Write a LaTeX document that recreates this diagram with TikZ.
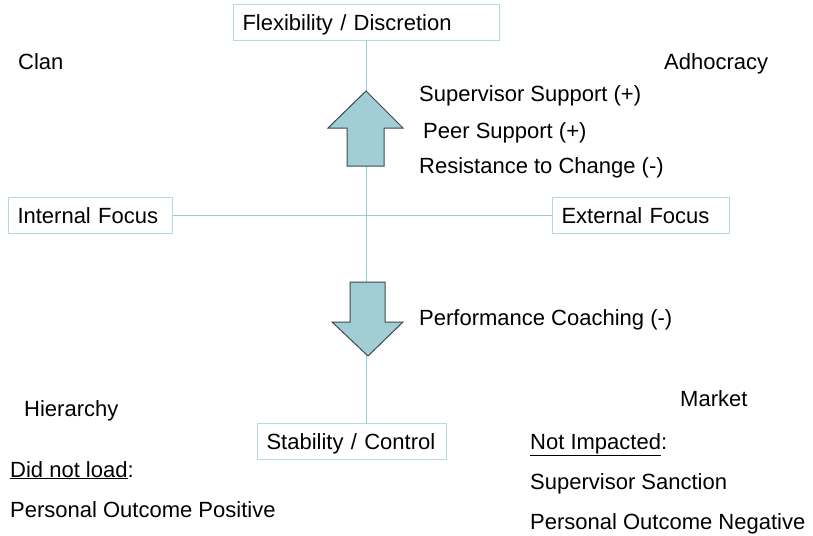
\documentclass[tikz,border=0pt]{standalone}
\usepackage{fontspec}
\setmainfont{Liberation Sans}
\usetikzlibrary{positioning}
\definecolor{boxline}{RGB}{178,218,224}
\definecolor{axisline}{RGB}{150,204,214}
\definecolor{arrowfill}{RGB}{160,206,212}
\definecolor{arrowline}{RGB}{62,72,80}
\tikzset{
  every node/.style={font=\fontsize{22}{26}\selectfont, inner sep=0pt},
  axisbox/.style={draw=boxline, line width=1pt, fill=white, minimum height=36pt,
    inner xsep=9pt, align=left, anchor=west, text height=16pt, text depth=0pt},
  lbl/.style={anchor=base west},
  blockarrow/.style={draw=arrowline, fill=arrowfill, line width=1pt, line join=miter}
}
\begin{document}
\begin{tikzpicture}[x=1pt,y=-1pt]
  \useasboundingbox (0,0) rectangle (813,535);
  \node[axisbox, text width=248pt] (flex) at (233,23) {Flexibility / Discretion};
  \node[axisbox, text width=171pt] (stab) at (257,441) {Stability / Control};
  \node[axisbox, text width=146pt] (intf) at (8,215.5) {Internal Focus};
  \node[axisbox, text width=159pt] (extf) at (552,215.5) {External Focus};
  \path[draw=axisline, line width=1pt]
    (flex.south) -- (flex.south |- stab.north)
    (intf.east) -- (extf.west);
  \draw[blockarrow] (366,91) -- (403,128) -- (384,128) -- (384,166) -- (347,166)
    -- (347,128) -- (328,128) -- cycle;
  \draw[blockarrow] (350,282) -- (385,282) -- (385,322) -- (403,322) -- (368,356)
    -- (332,322) -- (350,322) -- cycle;
  \node[lbl] (clan) at (18,69) {Clan};
  \node[lbl] (adho) at (664,69) {Adhocracy};
  \node[lbl] (hier) at (24,416) {Hierarchy};
  \node[lbl] (mrkt) at (680,406) {Market};
  \node[lbl] (supp) at (419,101) {Supervisor Support (+)};
  \node[lbl] (peer) at (423,138) {Peer Support (+)};
  \node[lbl] (resi) at (419,173) {Resistance to Change (-)};
  \node[lbl] (perf) at (419,325) {Performance Coaching (-)};
  \node[lbl] (noti) at (530,449) {\underline{Not Impacted}:};
  \node[lbl] (sanc) at (530,489) {Supervisor Sanction};
  \node[lbl] (negv) at (530,529) {Personal Outcome Negative};
  \node[lbl] (notl) at (10,477) {\underline{Did not load}:};
  \node[lbl] (posv) at (10,517) {Personal Outcome Positive};
\end{tikzpicture}
\end{document}
